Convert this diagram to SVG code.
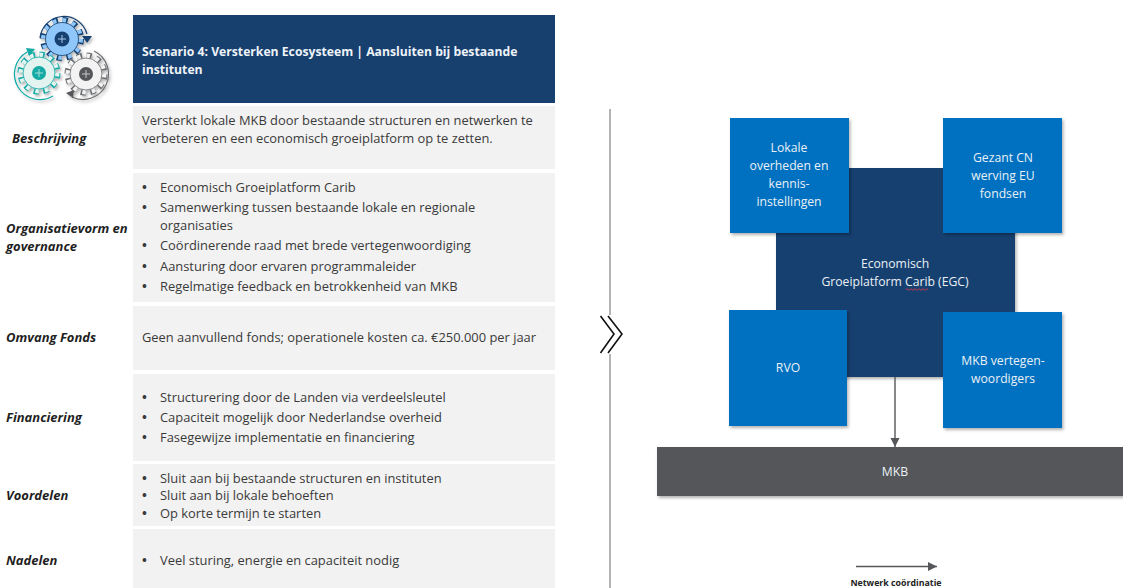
<svg xmlns="http://www.w3.org/2000/svg" width="1123" height="588" viewBox="0 0 1123 588">
<style>
text{font-family:"Open Sans","Noto Sans","Liberation Sans",sans-serif;font-size:12.9px;fill:#3a3a3a}
.lab{font-weight:700;font-style:italic;fill:#1f1f1f;font-size:13px}
.row{fill:#f2f2f2}
.w{fill:#eaf0f6;font-size:12.2px;text-anchor:middle}
.blue{fill:#0070c0}
.sh{filter:url(#s)}
.b{font-weight:700}
.hd{font-weight:700;fill:#eef3f8;font-size:12.2px}
</style>
<defs>
<filter id="s" x="-10%" y="-10%" width="125%" height="125%"><feDropShadow dx="1.5" dy="2" stdDeviation="1.5" flood-color="#000" flood-opacity=".3"/></filter>
<marker id="a" markerWidth="10" markerHeight="10" refX="9" refY="4.500" orient="auto" markerUnits="userSpaceOnUse"><path d="M0 0L9 4.500L0 9z" fill="#55575a"/></marker>
</defs>
<g id="icon" filter="url(#s)">
<circle cx="62" cy="39" r="18.500" fill="none" stroke="#17406f" stroke-width="7" stroke-dasharray="5 4.690"/>
<circle cx="62" cy="39" r="18.500" fill="none" stroke="#8fc7fb" stroke-width="5" stroke-dasharray="3.500 6.190"/>
<circle cx="62" cy="39" r="16.500" fill="#8fc7fb" stroke="#17406f" stroke-width=".8"/>
<circle cx="62" cy="39" r="7.500" fill="#17406f"/>
<path d="M58 39h8M62 35v8" stroke="#a9c6e6" stroke-width="1"/>
<path d="M40 38A24 24 0 0 1 87 34" fill="none" stroke="#17406f" stroke-width="1.200"/>
<path d="M82 36L92 36L87 43z" fill="#17406f"/>
<circle cx="39" cy="73" r="18" fill="none" stroke="#12aaa5" stroke-width="7" stroke-dasharray="5 4.420"/>
<circle cx="39" cy="73" r="18" fill="none" stroke="#e3f3ef" stroke-width="5" stroke-dasharray="3.500 5.920"/>
<circle cx="39" cy="73" r="16" fill="#e3f3ef" stroke="#12aaa5" stroke-width=".8"/>
<circle cx="39" cy="73" r="7" fill="#12aaa5"/>
<path d="M35 73h8M39 69v8" stroke="#a5e0dc" stroke-width="1"/>
<path d="M53 96A25 25 0 0 1 27 52" fill="none" stroke="#12aaa5" stroke-width="1.200"/>
<path d="M26 48L35 49L29 56z" fill="#12aaa5"/>
<circle cx="86" cy="74" r="18" fill="none" stroke="#6b6d70" stroke-width="7" stroke-dasharray="5 4.420"/>
<circle cx="86" cy="74" r="18" fill="none" stroke="#f3f3f3" stroke-width="5" stroke-dasharray="3.500 5.920"/>
<circle cx="86" cy="74" r="16" fill="#f3f3f3" stroke="#6b6d70" stroke-width=".8"/>
<circle cx="86" cy="74" r="7" fill="#55575a"/>
<path d="M82 74h8M86 70v8" stroke="#c8c8c8" stroke-width="1"/>
<path d="M94 51A25 25 0 0 1 72 97" fill="none" stroke="#6b6d70" stroke-width="1.200"/>
<path d="M66 93L74 90L73 98z" fill="#55575a"/>
</g>
<g id="header">
<rect x="133" y="15" width="422" height="88" fill="#17406f"/>
<text class="hd" x="142" y="56">Scenario 4: Versterken Ecosysteem | Aansluiten bij bestaande</text>
<text class="hd" x="142" y="74">instituten</text>
</g>
<g id="beschrijving">
<rect class="row" x="133" y="106" width="422" height="63"/>
<text class="lab" x="12" y="143">Beschrijving</text>
<text x="142" y="125">Versterkt lokale MKB door bestaande structuren en netwerken te</text>
<text x="142" y="143">verbeteren en een economisch groeiplatform op te zetten.</text>
</g>
<g id="organisatievorm">
<rect class="row" x="133" y="173" width="422" height="129"/>
<text class="lab" x="6" y="233">Organisatievorm en</text>
<text class="lab" x="6" y="251">governance</text>
<text class="b" x="142" y="192">•</text><text x="160" y="192">Economisch Groeiplatform Carib</text>
<text class="b" x="142" y="212">•</text><text x="160" y="212">Samenwerking tussen bestaande lokale en regionale</text>
<text x="160" y="230">organisaties</text>
<text class="b" x="142" y="250">•</text><text x="160" y="250">Coördinerende raad met brede vertegenwoordiging</text>
<text class="b" x="142" y="271">•</text><text x="160" y="271">Aansturing door ervaren programmaleider</text>
<text class="b" x="142" y="291">•</text><text x="160" y="291">Regelmatige feedback en betrokkenheid van MKB</text>
</g>
<g id="omvang">
<rect class="row" x="133" y="306" width="422" height="64"/>
<text class="lab" x="6" y="342">Omvang Fonds</text>
<text x="142" y="342">Geen aanvullend fonds; operationele kosten ca. €250.000 per jaar</text>
</g>
<g id="financiering">
<rect class="row" x="133" y="374" width="422" height="87"/>
<text class="lab" x="6" y="422">Financiering</text>
<text class="b" x="142" y="402">•</text><text x="160" y="402">Structurering door de Landen via verdeelsleutel</text>
<text class="b" x="142" y="422">•</text><text x="160" y="422">Capaciteit mogelijk door Nederlandse overheid</text>
<text class="b" x="142" y="442">•</text><text x="160" y="442">Fasegewijze implementatie en financiering</text>
</g>
<g id="voordelen">
<rect class="row" x="133" y="464" width="422" height="62"/>
<text class="lab" x="6" y="500">Voordelen</text>
<text class="b" x="142" y="483">•</text><text x="160" y="483">Sluit aan bij bestaande structuren en instituten</text>
<text class="b" x="142" y="500">•</text><text x="160" y="500">Sluit aan bij lokale behoeften</text>
<text class="b" x="142" y="518">•</text><text x="160" y="518">Op korte termijn te starten</text>
</g>
<g id="nadelen">
<rect class="row" x="133" y="529" width="422" height="59"/>
<text class="lab" x="6" y="565">Nadelen</text>
<text class="b" x="142" y="565">•</text><text x="160" y="565">Veel sturing, energie en capaciteit nodig</text>
</g>
<g id="divider">
<path d="M610 109V315M610 354V588" stroke="#8c8c8c" stroke-width="1.300" fill="none"/>
<path d="M600.500 316L614 334L600.500 353M608 316L622 334L608 353" fill="none" stroke="#111" stroke-width="1.600"/>
</g>
<g id="egc">
<rect class="sh" x="776" y="168" width="239" height="209" fill="#17406f"/>
<text class="w" x="895" y="268">Economisch</text>
<text class="w" x="895" y="286">Groeiplatform Carib (EGC)</text>
<path d="M906 289.500q1-1.500 2 0t2 0 2 0 2 0 2 0 2 0 2 0 2 0 2 0 2 0 2 0" fill="none" stroke="#d23a4a" stroke-width=".9"/>
</g>
<g id="lokale">
<rect class="blue sh" x="730" y="118" width="119" height="115"/>
<text class="w" x="789" y="152">Lokale</text>
<text class="w" x="789" y="170">overheden en</text>
<text class="w" x="789" y="188">kennis-</text>
<text class="w" x="789" y="206">instellingen</text>
</g>
<g id="gezant">
<rect class="blue sh" x="943" y="118" width="119" height="115"/>
<text class="w" x="1003" y="162">Gezant CN</text>
<text class="w" x="1003" y="180">werving EU</text>
<text class="w" x="1003" y="198">fondsen</text>
</g>
<g id="rvo">
<rect class="blue sh" x="729" y="310" width="118" height="116"/>
<text class="w" x="788" y="372">RVO</text>
</g>
<g id="mkbv">
<rect class="blue sh" x="943" y="312" width="119" height="116"/>
<text class="w" x="1003" y="365">MKB vertegen-</text>
<text class="w" x="1003" y="383">woordigers</text>
</g>
<g id="mkb">
<rect class="sh" x="657" y="447" width="466" height="49" fill="#55575a"/>
<text class="w" x="895" y="476">MKB</text>
</g>
<g id="connectors">
<path d="M895 377V447" stroke="#55575a" stroke-width="1.400" fill="none" marker-end="url(#a)"/>
<path d="M856 566.500H937" stroke="#55575a" stroke-width="1.400" fill="none" marker-end="url(#a)"/>
</g>
<text x="896" y="586" text-anchor="middle" style="font-size:8.800px;font-weight:700;fill:#222">Netwerk coördinatie</text>
</svg>
